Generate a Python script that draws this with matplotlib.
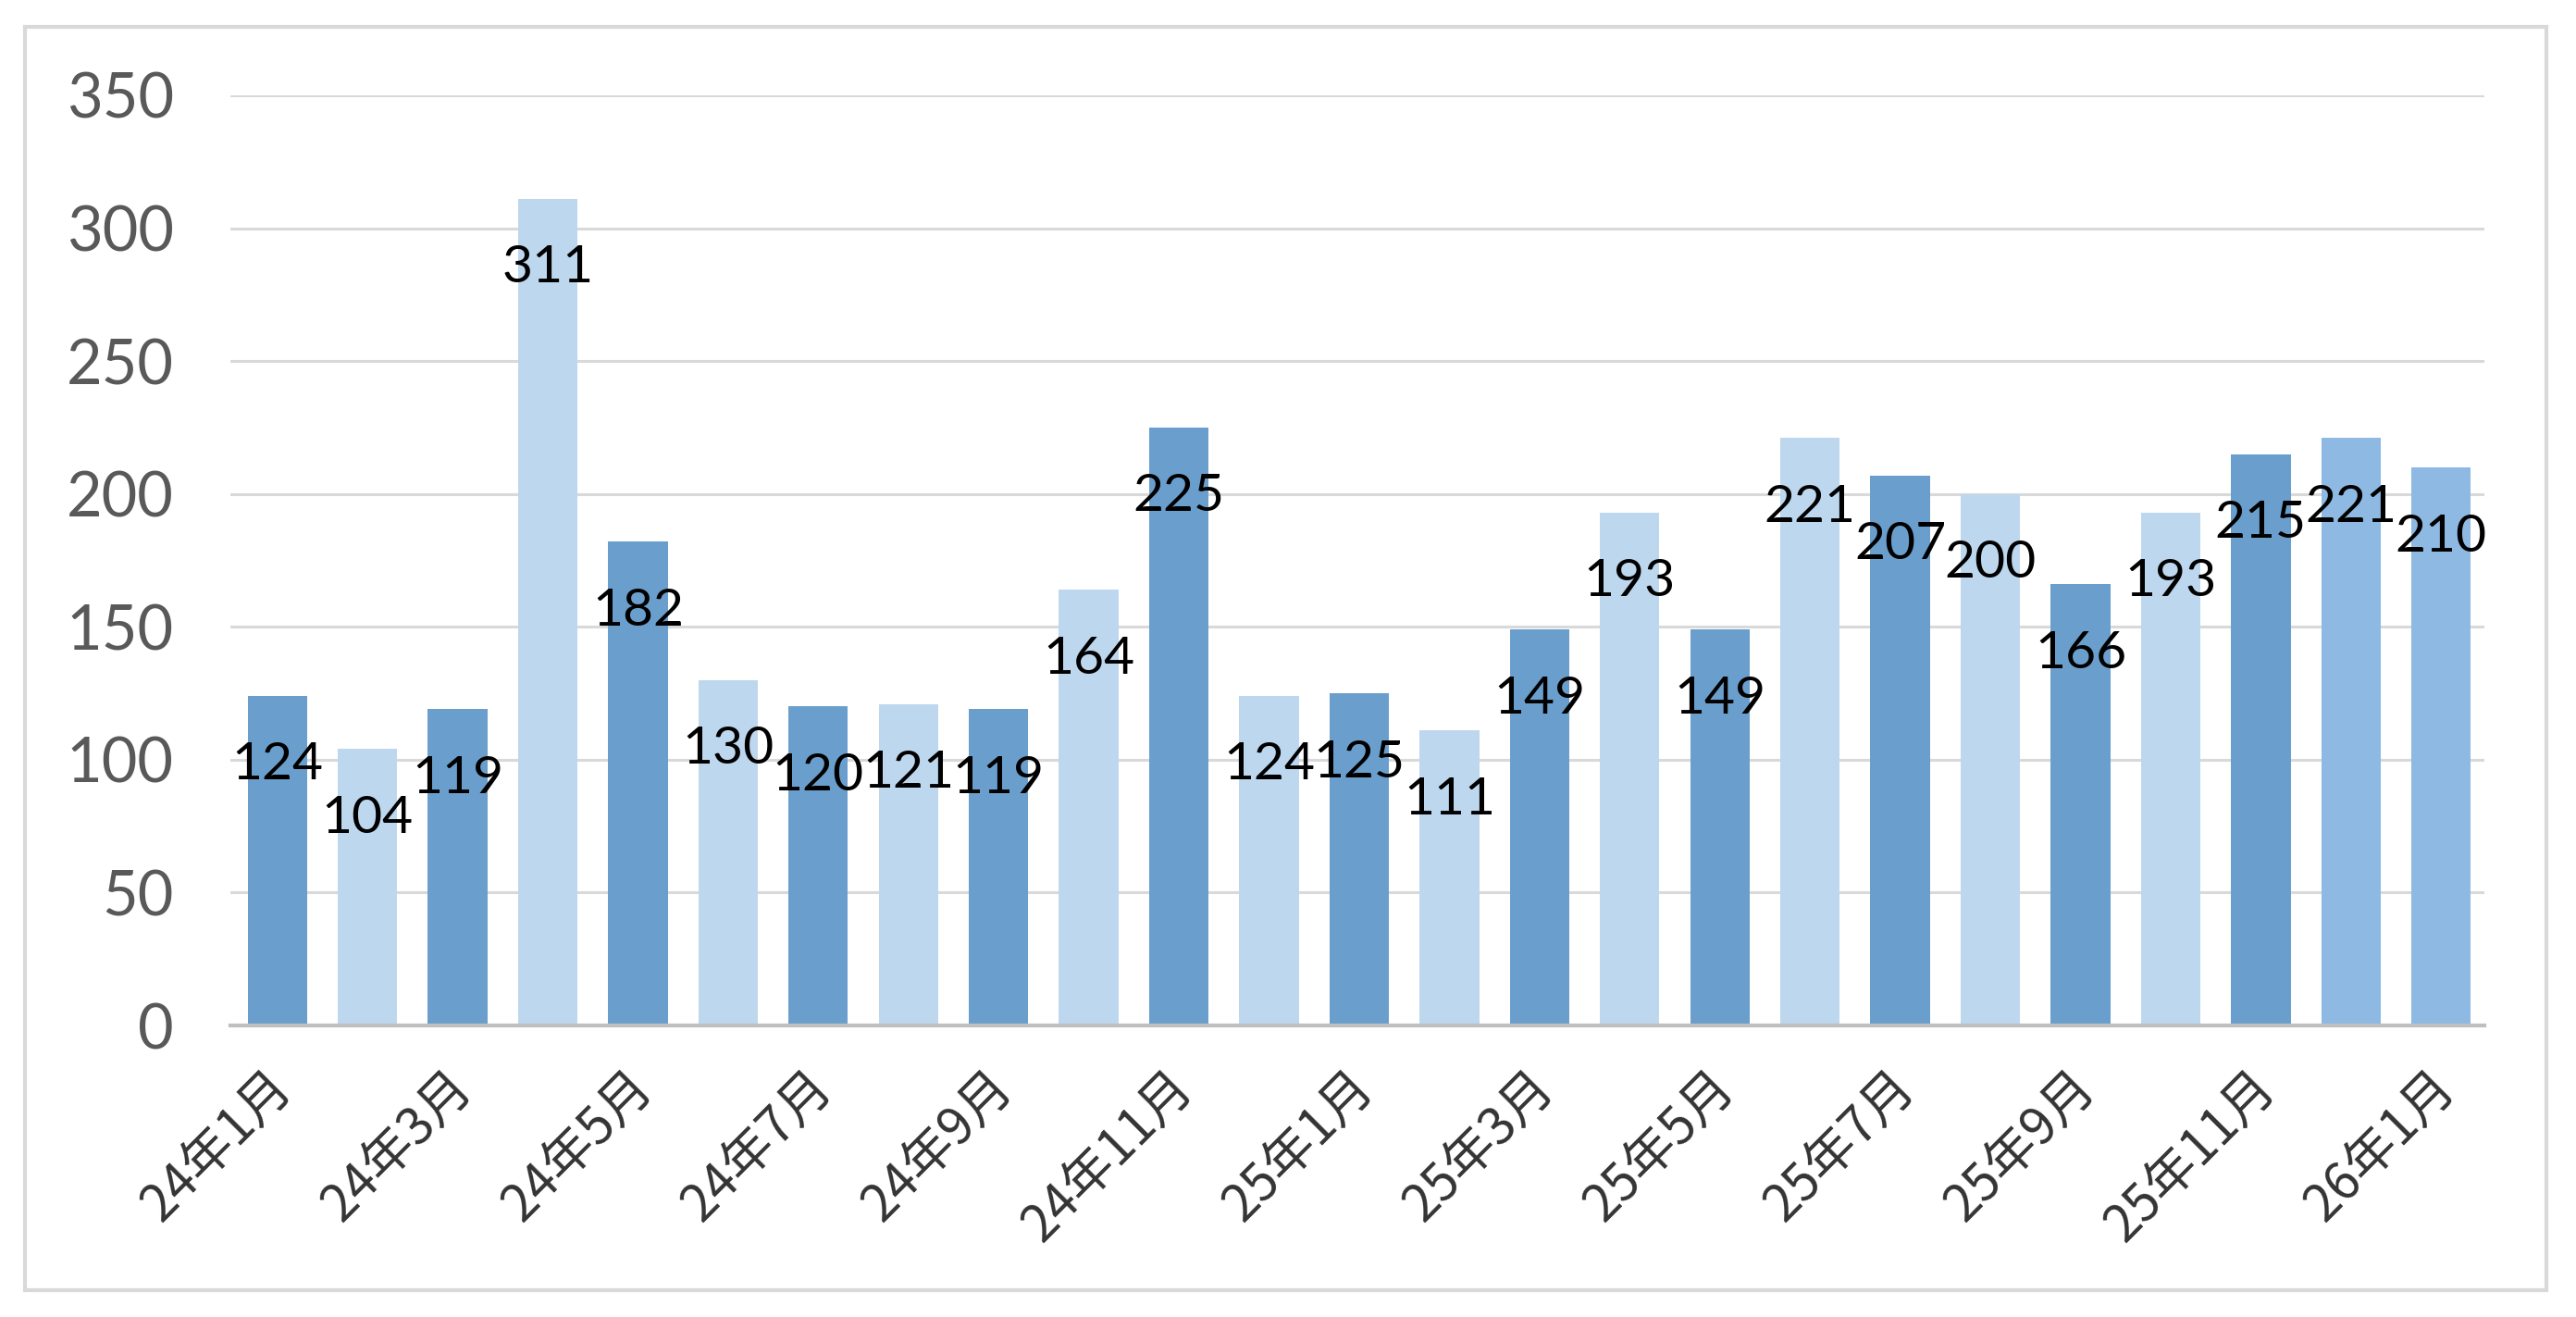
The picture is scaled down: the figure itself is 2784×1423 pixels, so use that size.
import matplotlib
matplotlib.use("Agg")
import matplotlib.pyplot as plt
from matplotlib.transforms import ScaledTranslation
from matplotlib.patches import Rectangle

# ---- data ----
months = ["24年1月", "24年2月", "24年3月", "24年4月", "24年5月", "24年6月",
          "24年7月", "24年8月", "24年9月", "24年10月", "24年11月", "24年12月",
          "25年1月", "25年2月", "25年3月", "25年4月", "25年5月", "25年6月",
          "25年7月", "25年8月", "25年9月", "25年10月", "25年11月", "25年12月",
          "26年1月"]
values = [124, 104, 119, 311, 182, 130, 120, 121, 119, 164, 225, 124,
          125, 111, 149, 193, 149, 221, 207, 200, 166, 193, 215, 221, 210]
yticks = [0, 50, 100, 150, 200, 250, 300, 350]

# ---- style ----
DARK, LIGHT, MID = "#6A9FCD", "#BDD7EE", "#8EB9E2"
colors = [DARK if i % 2 == 0 else LIGHT for i in range(len(values))]
colors[-2] = MID
colors[-1] = MID

W, H, DPI = 2784, 1423, 100
fig = plt.figure(figsize=(W / DPI, H / DPI), dpi=DPI)
fig.patch.set_facecolor("white")

# outer border
fig.patches.append(Rectangle((27 / W, 29 / H), (2752 - 27) / W, (1394 - 29) / H,
                             transform=fig.transFigure, fill=False,
                             edgecolor="#D9D9D9", linewidth=3.0))

ax = fig.add_axes([249 / W, 1 - 1108 / H, (2685 - 249) / W, (1108 - 103) / H])
x = list(range(len(values)))
ax.bar(x, values, width=0.66, color=colors, zorder=3)

ax.set_xlim(-0.52, len(values) - 0.52)
ax.set_ylim(0, 350)
ax.set_yticks(yticks)
ax.set_yticklabels([str(v) for v in yticks], fontfamily="Lato", fontsize=48,
                   color="#595959")
ax.grid(axis="y", color="#D9D9D9", linewidth=2.2, zorder=0)
ax.tick_params(axis="y", length=0, pad=44)
ax.tick_params(axis="x", length=0, pad=28)

for s in ["top", "right", "left"]:
    ax.spines[s].set_visible(False)
ax.spines["bottom"].set_color("#BFBFBF")
ax.spines["bottom"].set_linewidth(3.0)
ax.spines["bottom"].set_zorder(4)

tick_pos = x[::2]
ax.set_xticks(tick_pos)
ax.set_xticklabels([months[i] for i in tick_pos], rotation=45, ha="right",
                   va="top", fontfamily=["Noto Sans CJK JP", "DejaVu Sans"],
                   fontsize=40, color="#333333")
off = ScaledTranslation(28 / DPI, 0, fig.dpi_scale_trans)
for lab in ax.get_xticklabels():
    lab.set_transform(lab.get_transform() + off)

for xi, v in zip(x, values):
    ax.annotate(str(v), (xi, v), xytext=(0, -54), textcoords="offset points",
                ha="center", va="center", fontfamily="Lato", fontsize=41,
                color="black", zorder=5)

fig.savefig("out.png", dpi=DPI)
